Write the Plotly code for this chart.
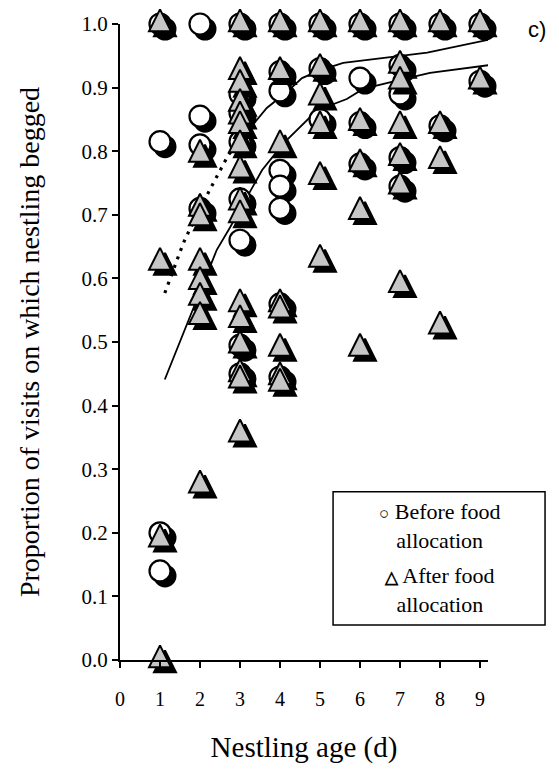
import plotly.graph_objects as go

# ---------------------------------------------------------------
# Begging by nestling age, before and after food allocation
# ---------------------------------------------------------------

# proportion of visits with begging, before food allocation (circles)
ages_before = [1, 1, 1, 1,
               2, 2, 2, 2,
               3, 3, 3, 3, 3, 3, 3, 3,
               4, 4, 4, 4, 4, 4, 4, 4,
               5, 5, 5,
               6, 6, 6, 6,
               7, 7, 7, 7, 7,
               8, 8,
               9, 9]
prop_before = [1.0, 0.815, 0.20, 0.14,
               1.0, 0.855, 0.81, 0.71,
               1.0, 0.89, 0.86, 0.815, 0.725, 0.66, 0.495, 0.45,
               1.0, 0.925, 0.895, 0.77, 0.745, 0.71, 0.56, 0.445,
               1.0, 0.93, 0.85,
               1.0, 0.915, 0.845, 0.78,
               1.0, 0.935, 0.89, 0.79, 0.745,
               1.0, 0.84,
               1.0, 0.91]

# proportion of visits with begging, after food allocation (triangles)
ages_after = [1, 1, 1, 1,
              2, 2, 2, 2, 2, 2, 2, 2,
              3, 3, 3, 3, 3, 3, 3, 3, 3, 3, 3, 3, 3, 3, 3, 3,
              4, 4, 4, 4, 4, 4, 4, 4,
              5, 5, 5, 5, 5, 5,
              6, 6, 6, 6, 6,
              7, 7, 7, 7, 7, 7, 7,
              8, 8, 8, 8,
              9, 9]
prop_after = [1.0, 0.625, 0.19, 0.0,
              0.795, 0.71, 0.695, 0.625, 0.595, 0.57, 0.54, 0.275,
              1.0, 0.925, 0.905, 0.875, 0.855, 0.84, 0.81, 0.77, 0.72, 0.70,
              0.56, 0.535, 0.495, 0.45, 0.44, 0.355,
              1.0, 0.925, 0.81, 0.56, 0.55, 0.49, 0.445, 0.435,
              1.0, 0.93, 0.885, 0.84, 0.76, 0.63,
              1.0, 0.845, 0.78, 0.705, 0.49,
              1.0, 0.935, 0.91, 0.84, 0.79, 0.745, 0.59,
              1.0, 0.84, 0.785, 0.525,
              1.0, 0.91]

# fitted curve, before allocation (dotted part, then solid part)
fit_before_dot_age = [1.12, 1.25, 1.58, 1.75, 2.25, 2.7, 2.9]
fit_before_dot_prop = [0.577, 0.60, 0.655, 0.678, 0.74, 0.793, 0.81]
fit_before_age = [2.9, 3.67, 4.17, 4.55, 5.0, 5.58, 7.68, 9.2]
fit_before_prop = [0.81, 0.868, 0.893, 0.915, 0.927, 0.939, 0.955, 0.975]

# fitted curve, after allocation
fit_after_age = [1.12, 2.42, 2.75, 3.55, 4.08, 4.92, 5.67, 6.08, 7.0, 7.75, 9.42]
fit_after_prop = [0.441, 0.645, 0.68, 0.77, 0.812, 0.864, 0.882, 0.898, 0.912, 0.923, 0.937]

x_tick_vals = [0, 1, 2, 3, 4, 5, 6, 7, 8, 9]
y_tick_vals = [0.0, 0.1, 0.2, 0.3, 0.4, 0.5, 0.6, 0.7, 0.8, 0.9, 1.0]
y_tick_text = ["0.0", "0.1", "0.2", "0.3", "0.4", "0.5",
               "0.6", "0.7", "0.8", "0.9", "1.0"]

# ---------------------------------------------------------------
W, H = 559, 770
ML, MR, MT, MB = 120, 71, 23, 108
X_RANGE = [0, 9.2]
Y_RANGE = [0, 1.0]
plot_w = W - ML - MR

SHADOW_PX = 5          # drop-shadow offset, pixels right and down
dx = SHADOW_PX * (X_RANGE[1] - X_RANGE[0]) / plot_w
X_SHIFT = [X_RANGE[0] - dx, X_RANGE[1] - dx]   # moves marks right by SHADOW_PX

SERIF = "Liberation Serif"
CIRCLE_SIZE = 21
TRI_SIZE = 22
# arrow-down turned by 180 deg gives an upward triangle; the standoff
# lifts it so that its centroid sits on the data point
TRI_STANDOFF = TRI_SIZE * 2 / 3
STIPPLE = "#c6c6c6"

fig = go.Figure()

# layer 1: fitted curves on the visible axes
fig.add_trace(go.Scatter(x=fit_before_dot_age, y=fit_before_dot_prop, mode="lines",
                         line=dict(color="black", width=3.2, dash="3px,6px"),
                         cliponaxis=False, hoverinfo="skip"))
fig.add_trace(go.Scatter(x=fit_before_age, y=fit_before_prop, mode="lines",
                         line=dict(color="black", width=1.8),
                         cliponaxis=False, hoverinfo="skip"))
fig.add_trace(go.Scatter(x=fit_after_age, y=fit_after_prop, mode="lines",
                         line=dict(color="black", width=1.8),
                         cliponaxis=False, hoverinfo="skip"))

# layer 2: circle shadows (x-offset axis, pushed down by the standoff)
fig.add_trace(go.Scatter(x=ages_before, y=prop_before, mode="markers",
                         xaxis="x2", yaxis="y2", cliponaxis=False,
                         marker=dict(symbol="circle", size=CIRCLE_SIZE, color="black",
                                     angle=0, standoff=SHADOW_PX,
                                     line=dict(color="black", width=2))))
# layer 3: circles
fig.add_trace(go.Scatter(x=ages_before, y=prop_before, mode="markers",
                         xaxis="x3", yaxis="y3", cliponaxis=False,
                         name="Before food allocation",
                         marker=dict(symbol="circle", size=CIRCLE_SIZE, color="white",
                                     line=dict(color="black", width=2.2))))
# layer 4: triangle shadows (x-offset axis, lifted less than the triangles)
fig.add_trace(go.Scatter(x=ages_after, y=prop_after, mode="markers",
                         xaxis="x4", yaxis="y4", cliponaxis=False,
                         marker=dict(symbol="arrow-down", size=TRI_SIZE, color="black",
                                     angle=180, standoff=TRI_STANDOFF - SHADOW_PX,
                                     line=dict(color="black", width=2))))
# layer 5: triangles
fig.add_trace(go.Scatter(x=ages_after, y=prop_after, mode="markers",
                         xaxis="x5", yaxis="y5", cliponaxis=False,
                         name="After food allocation",
                         marker=dict(symbol="arrow-down", size=TRI_SIZE, color=STIPPLE,
                                     angle=180, standoff=TRI_STANDOFF,
                                     line=dict(color="black", width=2))))

hidden = dict(visible=False, fixedrange=True)

fig.update_layout(
    width=W, height=H,
    margin=dict(l=ML, r=MR, t=MT, b=MB, pad=0),
    paper_bgcolor="white", plot_bgcolor="white",
    showlegend=False,
    font=dict(family=SERIF, color="black"),
    xaxis=dict(range=X_RANGE, tickvals=x_tick_vals, ticks="outside",
               ticklen=6, tickwidth=1.5, tickcolor="black",
               showline=True, linecolor="black", linewidth=2,
               showgrid=False, zeroline=False, ticklabelstandoff=14,
               tickfont=dict(family=SERIF, size=20, color="black"),
               title=dict(text="Nestling age (d)", standoff=28,
                          font=dict(family=SERIF, size=29, color="black"))),
    yaxis=dict(range=Y_RANGE, tickvals=y_tick_vals, ticktext=y_tick_text,
               ticks="outside", ticklen=6, tickwidth=1.5, tickcolor="black",
               showline=True, linecolor="black", linewidth=2,
               showgrid=False, zeroline=False,
               tickfont=dict(family=SERIF, size=21, color="black"),
               title=dict(text="Proportion of visits on which nestling begged",
                          standoff=34,
                          font=dict(family=SERIF, size=28, color="black"))),
    xaxis2=dict(range=X_SHIFT, overlaying="x", anchor="y2", **hidden),
    yaxis2=dict(range=Y_RANGE, overlaying="y", anchor="x2", **hidden),
    xaxis3=dict(range=X_RANGE, overlaying="x", anchor="y3", **hidden),
    yaxis3=dict(range=Y_RANGE, overlaying="y", anchor="x3", **hidden),
    xaxis4=dict(range=X_SHIFT, overlaying="x", anchor="y4", **hidden),
    yaxis4=dict(range=Y_RANGE, overlaying="y", anchor="x4", **hidden),
    xaxis5=dict(range=X_RANGE, overlaying="x", anchor="y5", **hidden),
    yaxis5=dict(range=Y_RANGE, overlaying="y", anchor="x5", **hidden),
)

# legend box (paper coordinates so it may extend past the x axis end)
fig.add_shape(type="rect", xref="paper", yref="paper",
              x0=0.579, x1=1.155, y0=0.055, y1=0.2645,
              line=dict(color="black", width=1.5), fillcolor="rgba(0,0,0,0)")
fig.add_annotation(xref="paper", yref="paper", x=0.868, y=0.211, showarrow=False,
                   align="center", xanchor="center", yanchor="middle",
                   text="<b><span style='font-size:17px'>○</span></b> Before food<br>allocation",
                   font=dict(family=SERIF, size=22, color="black"))
fig.add_annotation(xref="paper", yref="paper", x=0.868, y=0.11, showarrow=False,
                   align="center", xanchor="center", yanchor="middle",
                   text="<b><span style='font-size:17px'>△</span></b> After food<br>allocation",
                   font=dict(family=SERIF, size=22, color="black"))

# panel letter
fig.add_annotation(xref="paper", yref="paper", x=1.133, y=0.992, showarrow=False,
                   xanchor="center", yanchor="middle",
                   text="c)", font=dict(family="Liberation Sans", size=22, color="black"))

fig.write_html("out.html")
